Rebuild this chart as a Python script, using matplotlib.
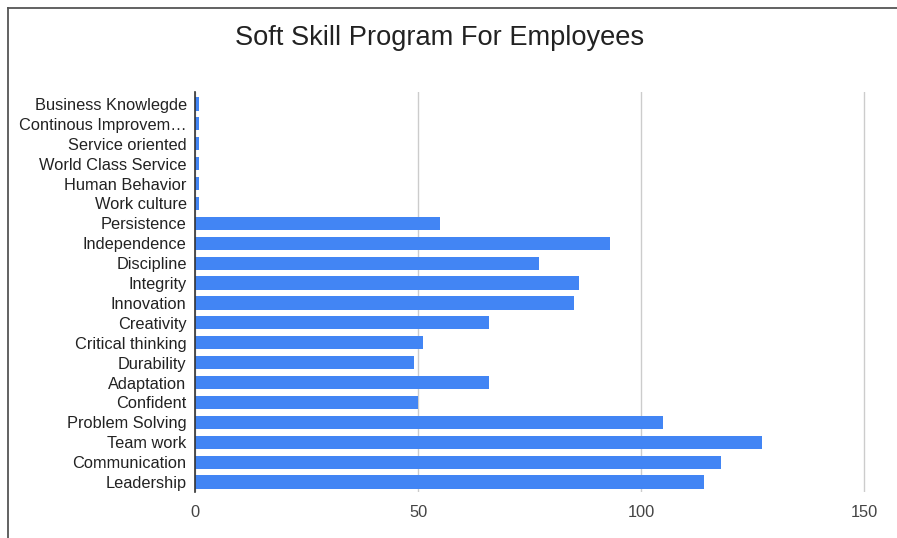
"""Soft skill program for employees, horizontal bar chart."""
import matplotlib
matplotlib.use("Agg")
import matplotlib.pyplot as plt
from matplotlib.lines import Line2D

plt.rcParams["font.family"] = ["Liberation Sans", "DejaVu Sans"]

SKILLS = [
    "Business Knowlegde", "Continous Improvem…", "Service oriented",
    "World Class Service", "Human Behavior", "Work culture", "Persistence",
    "Independence", "Discipline", "Integrity", "Innovation", "Creativity",
    "Critical thinking", "Durability", "Adaptation", "Confident",
    "Problem Solving", "Team work", "Communication", "Leadership",
]
PARTICIPANTS = [1, 1, 1, 1, 1, 1, 55, 93, 77, 86, 85, 66, 51, 49, 66, 50, 105, 127, 118, 114]
X_TICKS = [0, 50, 100, 150]

BLUE = "#4285f4"


def main() -> None:
    fig = plt.figure(figsize=(8.97, 5.38), dpi=100)
    ax = fig.add_axes([0.2174, 0.0855, 0.756, 0.7435])

    y = range(len(SKILLS))
    ax.barh(y, PARTICIPANTS, height=0.66, color=BLUE, zorder=3)
    ax.set_yticks(list(y))
    ax.set_yticklabels(SKILLS, fontsize=11.8, color="#222222")
    ax.set_ylim(19.5, -0.6)
    ax.set_xlim(0, 152)
    ax.set_xticks(X_TICKS)
    ax.set_xticklabels([str(t) for t in X_TICKS], fontsize=11.8, color="#444444")
    ax.tick_params(axis="both", length=0, pad=6)
    ax.tick_params(axis="x", pad=9)
    ax.grid(axis="x", color="#cccccc", linewidth=1, zorder=0)
    for side in ["top", "right", "bottom"]:
        ax.spines[side].set_visible(False)
    ax.spines["left"].set_color("#333333")
    ax.spines["left"].set_linewidth(1.2)
    ax.spines["left"].set_zorder(4)

    fig.text(0.4905, 0.93, "Soft Skill Program For Employees", ha="center", va="center",
             fontsize=19.6, color="#222222")

    # outer frame, top and left edges only
    fig.add_artist(Line2D([0.009, 1.0], [0.985, 0.985], color="#555555", linewidth=1.3))
    fig.add_artist(Line2D([0.009, 0.009], [0.0, 0.985], color="#555555", linewidth=1.3))

    fig.savefig("out.png", dpi=100)
    plt.close(fig)


if __name__ == "__main__":
    main()
